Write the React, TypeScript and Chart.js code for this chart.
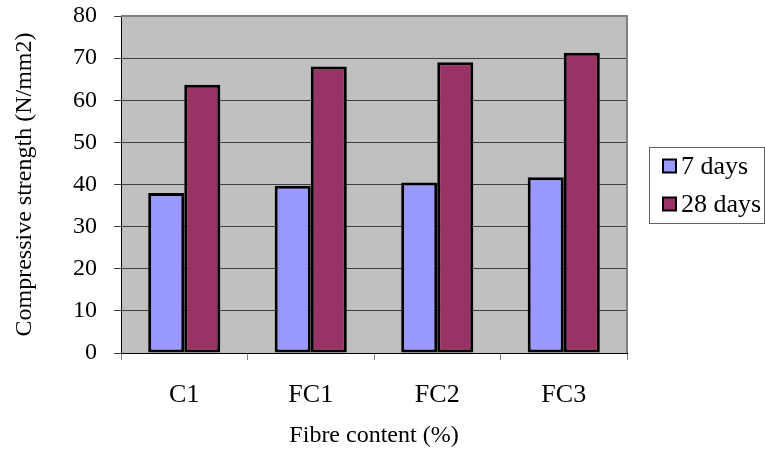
import React, { useEffect, useRef } from "react";
import { Chart, registerables } from "chart.js";

Chart.register(...registerables);

const categories = ["C1", "FC1", "FC2", "FC3"];
const days7 = [38.0, 39.7, 40.5, 41.7];
const days28 = [63.7, 68.0, 69.0, 71.3];
const seriesLabels = ["7 days", "28 days"];
const seriesColors = ["#9999FF", "#993366"];
const yMin = 0;
const yMax = 80;
const yStep = 10;
const xTitle = "Fibre content (%)";
const yTitle = "Compressive strength (N/mm2)";

const FONT = "'Liberation Serif', 'Times New Roman', serif";

const plotBg = {
  id: "plotBg",
  beforeDraw(chart: any) {
    const { ctx, chartArea: a } = chart;
    ctx.save();
    ctx.fillStyle = "#C0C0C0";
    ctx.fillRect(a.left, a.top, a.right - a.left, a.bottom - a.top);
    ctx.restore();
  },
  afterDatasetsDraw(chart: any) {
    const { ctx, chartArea: a } = chart;
    ctx.save();
    ctx.strokeStyle = "#808080";
    ctx.lineWidth = 2;
    ctx.beginPath();
    ctx.moveTo(a.left, a.top);
    ctx.lineTo(a.right, a.top);
    ctx.lineTo(a.right, a.bottom);
    ctx.stroke();
    ctx.restore();
  },
};

const boxLegend = {
  id: "boxLegend",
  afterDraw(chart: any) {
    const { ctx } = chart;
    const x0 = 649, y0 = 147, w = 115, h = 76;
    ctx.save();
    ctx.fillStyle = "#FFFFFF";
    ctx.fillRect(x0, y0, w, h);
    ctx.strokeStyle = "#606060";
    ctx.lineWidth = 1;
    ctx.strokeRect(x0 + 0.5, y0 + 0.5, w, h);
    const rows = [166, 204];
    chart.data.datasets.forEach((ds: any, i: number) => {
      const cy = rows[i];
      ctx.fillStyle = ds.backgroundColor;
      ctx.fillRect(663, cy - 6.5, 13, 13);
      ctx.strokeStyle = "#000";
      ctx.lineWidth = 2;
      ctx.strokeRect(663, cy - 6.5, 13, 13);
      ctx.fillStyle = "#000";
      ctx.font = `26px ${FONT}`;
      ctx.textBaseline = "middle";
      ctx.textAlign = "left";
      ctx.fillText(ds.label, 681, cy + 1);
    });
    ctx.restore();
  },
};

export default function App() {
  const ref = useRef<HTMLCanvasElement | null>(null);
  useEffect(() => {
    if (!ref.current) return;
    const chart = new Chart(ref.current, {
      type: "bar",
      data: {
        labels: categories,
        datasets: [
          {
            label: seriesLabels[0],
            data: days7,
            backgroundColor: seriesColors[0],
            borderColor: "#000",
            borderWidth: 3,
            borderSkipped: false,
            categoryPercentage: 0.57,
            barPercentage: 1.0,
          },
          {
            label: seriesLabels[1],
            data: days28,
            backgroundColor: seriesColors[1],
            borderColor: "#000",
            borderWidth: 3,
            borderSkipped: false,
            categoryPercentage: 0.57,
            barPercentage: 1.0,
          },
        ],
      },
      options: {
        responsive: false,
        animation: false,
        devicePixelRatio: 1,
        layout: { padding: { left: 0, top: 16, right: 138, bottom: 0 } },
        plugins: {
          legend: { display: false },
          tooltip: { enabled: false },
        },
        scales: {
          x: {
            offset: true,
            grid: {
              offset: true,
              drawOnChartArea: false,
              drawTicks: true,
              tickLength: 7,
              color: "#808080",
            },
            border: { color: "#000", width: 1 },
            ticks: { font: { family: FONT, size: 26 }, color: "#000", padding: 20 },
            title: {
              display: true,
              text: xTitle,
              font: { family: FONT, size: 24 },
              color: "#000",
              padding: 0,
            },
            afterFit: (s: any) => {
              s.height = 97;
              s.paddingLeft = 0;
              s.paddingRight = 0;
            },
          },
          y: {
            min: yMin,
            max: yMax,
            ticks: {
              stepSize: yStep,
              font: { family: FONT, size: 24 },
              color: "#000",
              padding: 17,
            },
            grid: { color: "#404040", tickLength: 7 },
            border: { color: "#000", width: 1 },
            title: {
              display: true,
              text: yTitle,
              font: { family: FONT, size: 24 },
              color: "#000",
              padding: { top: 10, bottom: 0 },
            },
            afterFit: (s: any) => {
              s.width = 121;
              s.paddingTop = 0;
              s.paddingBottom = 0;
            },
          },
        },
      },
      plugins: [plotBg, boxLegend],
    });
    return () => chart.destroy();
  }, []);
  return (
    <div style={{ position: "absolute", left: 0, top: 0, width: 765, height: 450 }}>
      <canvas ref={ref} width={765} height={450} />
    </div>
  );
}
